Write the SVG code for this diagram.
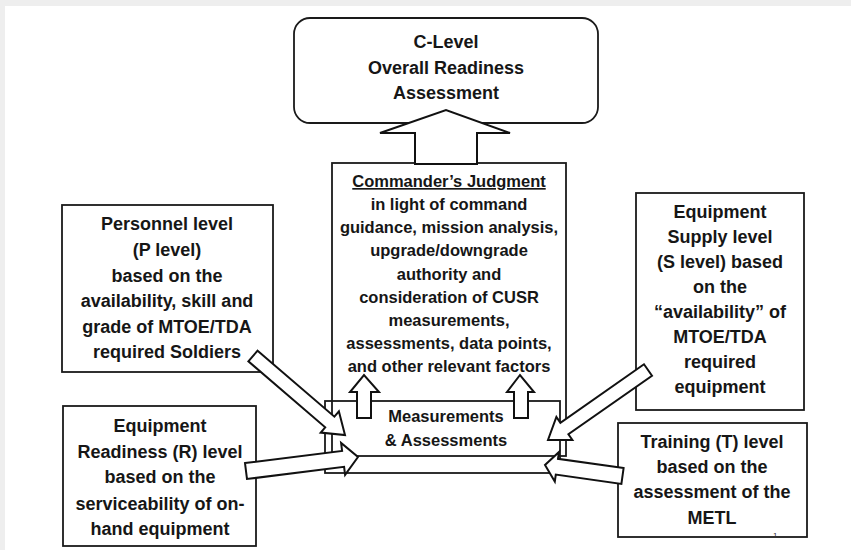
<svg xmlns="http://www.w3.org/2000/svg" width="851" height="550" viewBox="0 0 851 550">
  <style>
    .box { fill: #ffffff; stroke: #1a1a1a; stroke-width: 1.8; }
    .arrow { fill: #ffffff; stroke: #111111; stroke-width: 2; stroke-linejoin: miter; }
    .t { font-family: "Liberation Sans", Arial, sans-serif; font-weight: bold; font-size: 18px; fill: #161616; text-anchor: middle; }
    .tc { font-size: 16.5px; }
    .pg { font-family: "Liberation Sans", Arial, sans-serif; font-size: 8px; fill: #333333; }
  </style>

  <!-- page -->
  <rect x="0" y="0" width="851" height="550" fill="#eeeeee"/>
  <rect x="5" y="6" width="846" height="544" fill="#ffffff"/>

  <!-- C-level -->
  <g id="c-level">
    <rect class="box" x="294" y="18" width="304" height="105" rx="16" ry="16"/>
    <text class="t" x="446" y="48">C-Level</text>
    <text class="t" x="446" y="74">Overall Readiness</text>
    <text class="t" x="446" y="99">Assessment</text>
  </g>

  <!-- Commander's Judgment -->
  <g id="commander">
    <rect class="box" x="332" y="163" width="234" height="293"/>
    <text class="t tc" x="449" y="187" text-decoration="underline">Commander’s Judgment</text>
    <text class="t tc" x="449" y="210">in light of command</text>
    <text class="t tc" x="449" y="233">guidance, mission analysis,</text>
    <text class="t tc" x="449" y="256">upgrade/downgrade</text>
    <text class="t tc" x="449" y="280">authority and</text>
    <text class="t tc" x="449" y="303">consideration of CUSR</text>
    <text class="t tc" x="449" y="326">measurements,</text>
    <text class="t tc" x="449" y="349">assessments, data points,</text>
    <text class="t tc" x="449" y="372">and other relevant factors</text>
  </g>

  <!-- Measurements & Assessments -->
  <g id="measurements">
    <rect x="325" y="401" width="235" height="72" fill="none" stroke="#1a1a1a" stroke-width="1.8"/>
    <text class="t tc" x="446" y="422">Measurements</text>
    <text class="t tc" x="446" y="446">&amp; Assessments</text>
  </g>

  <!-- Personnel -->
  <g id="personnel">
    <rect class="box" x="62" y="205" width="211" height="167"/>
    <text class="t" x="167" y="230">Personnel level</text>
    <text class="t" x="167" y="256">(P level)</text>
    <text class="t" x="167" y="282">based on the</text>
    <text class="t" x="167" y="307">availability, skill and</text>
    <text class="t" x="167" y="333">grade of MTOE/TDA</text>
    <text class="t" x="167" y="358">required Soldiers</text>
  </g>

  <!-- Equipment Supply -->
  <g id="supply">
    <rect class="box" x="636" y="193" width="168" height="217"/>
    <text class="t" x="720" y="218">Equipment</text>
    <text class="t" x="720" y="243">Supply level</text>
    <text class="t" x="720" y="268">(S level) based</text>
    <text class="t" x="720" y="293">on the</text>
    <text class="t" x="720" y="318">“availability” of</text>
    <text class="t" x="720" y="343">MTOE/TDA</text>
    <text class="t" x="720" y="368">required</text>
    <text class="t" x="720" y="393">equipment</text>
  </g>

  <!-- Equipment Readiness -->
  <g id="readiness">
    <rect class="box" x="63" y="406" width="193" height="140"/>
    <text class="t" x="160" y="432">Equipment</text>
    <text class="t" x="160" y="458">Readiness (R) level</text>
    <text class="t" x="160" y="483">based on the</text>
    <text class="t" x="160" y="510">serviceability of on-</text>
    <text class="t" x="160" y="535">hand equipment</text>
  </g>

  <!-- Training -->
  <g id="training">
    <rect class="box" x="618" y="423" width="189" height="114"/>
    <text class="t" x="712" y="448">Training (T) level</text>
    <text class="t" x="712" y="473">based on the</text>
    <text class="t" x="712" y="498">assessment of the</text>
    <text class="t" x="712" y="524">METL</text>
  </g>

  <!-- connectors: block arrows -->
  <g id="connectors">
    <polygon class="arrow" points="415,164 415,133 380,133 446,110 510,133 477,133 477,164"/>
    <polygon class="arrow" points="357,418 357,392 350,392 364,375 379,392 371,392 371,418"/>
    <polygon class="arrow" points="514,418 514,392 507,392 520,375 534,392 528,392 528,418"/>
    <polygon class="arrow" points="257.6,350.7 334.4,416.7 338.9,411.4 345,435 320.7,432.6 325.2,427.3 248.4,361.3"/>
    <polygon class="arrow" points="245,463 342.1,451 341.1,443 358,457 345.1,474.8 344.1,466.8 247,479"/>
    <polygon class="arrow" points="644,364.3 560.4,422.8 556.4,417 548,440 572.4,440 568.4,434.2 652,375.7"/>
    <polygon class="arrow" points="623.6,468.1 558,458.8 559,451.9 545,465 554.8,481.5 555.8,474.6 621.4,483.9"/>
  </g>

  <text class="pg" x="773" y="538">1</text>
</svg>
